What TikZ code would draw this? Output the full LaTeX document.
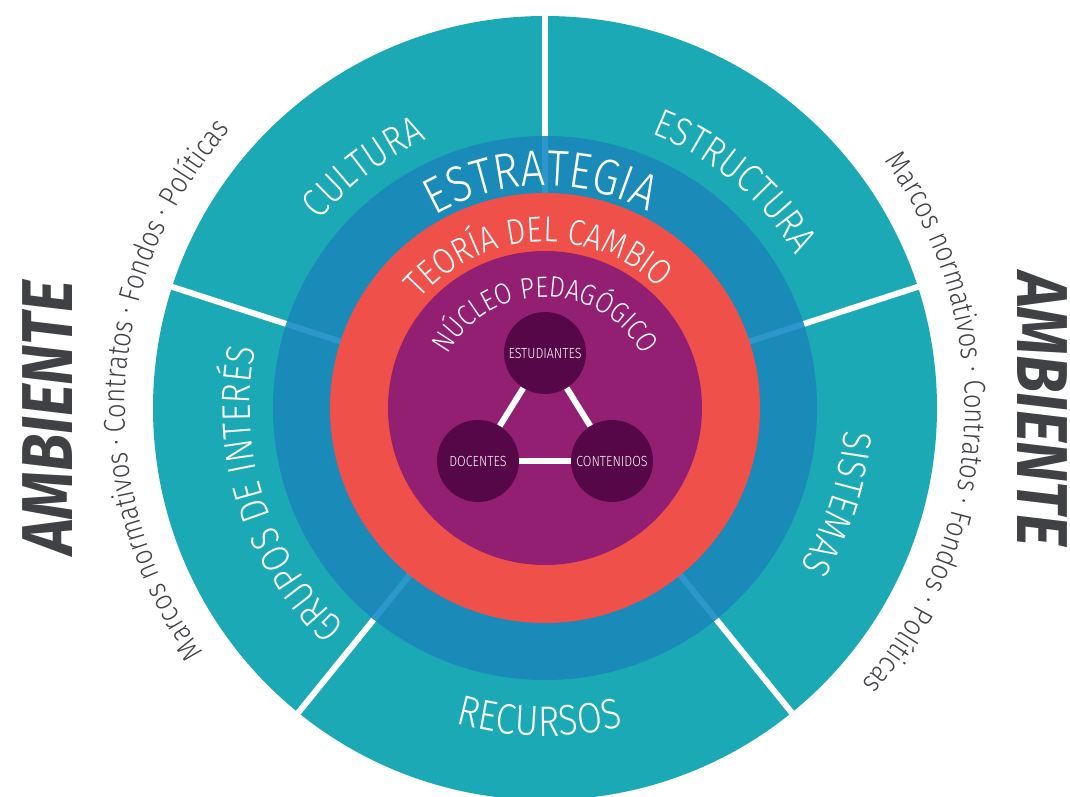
\documentclass[tikz,border=0pt]{standalone}
\usepackage{fontspec}
\IfFontExistsTF{Fira Sans Book}
  {\setmainfont{Fira Sans Book}[FakeStretch=0.85]}
  {\IfFontExistsTF{Fira Sans Light}
    {\setmainfont{Fira Sans Light}[FakeStretch=0.85]}
    {\setmainfont{Fira Sans}[FakeStretch=0.85]}}
\newfontfamily\ambfont{Fira Sans}[FakeStretch=0.85]
\usepackage{xcolor}
\usetikzlibrary{decorations.text}

\definecolor{ringteal}{HTML}{1BA9B5}
\definecolor{ringblue}{HTML}{1A8AB8}
\definecolor{seamblue}{HTML}{2C97CA}
\definecolor{ringred}{HTML}{EF5049}
\definecolor{corepurple}{HTML}{931F73}
\definecolor{coredark}{HTML}{560747}
\definecolor{ambgrey}{HTML}{404145}

\newcommand{\ringsize}[1]{\fontsize{#1}{#1}\selectfont}

\tikzset{
  ringtext/.style={decorate, decoration={text along path, text align=center, text={#1}}},
  corenode/.style={circle, fill=coredark, minimum size=61.5pt, inner sep=0pt, text=white, font=\ringsize{11}},
  corelink/.style={white, line width=4.5pt},
  divider/.style={white, line width=4.5pt},
  seam/.style={seamblue, line width=4.5pt},
  ambient/.style={text=ambgrey, font=\ambfont\ringsize{54}\bfseries\itshape}
}

\begin{document}
\begin{tikzpicture}[x=0.75pt, y=0.75pt]
\useasboundingbox (-545,-388) rectangle (525,408);

% rings
\fill [ringteal] (0,0) circle (392);
\foreach \a in {90,18,-51,-129,162}
  \draw [divider] (\a:268) -- (\a:395);
\fill [ringblue] (0,0) circle (272);
\foreach \a in {90,18,-51,-129,162}
  \draw [seam] (\a:212) -- (\a:272);
\fill [ringred] (0,0) circle (215);
\fill [corepurple] (0,0) circle (157);

% pedagogical core
\node [corenode] (est) at (0,55) {ESTUDIANTES};
\node [corenode] (doc) at (-67,-53) {DOCENTES};
\node [corenode] (con) at (67,-53) {CONTENIDOS};
\draw [corelink] (est) -- (doc);
\draw [corelink] (est) -- (con);
\draw [corelink] (doc) -- (con);

% ring labels
\path [ringtext={|\color{white}\ringsize{22}|NÚCLEO PEDAGÓGICO}] (178:111) arc [start angle=178, end angle=2, radius=111];
\path [ringtext={|\color{white}\ringsize{27}|TEORÍA DEL CAMBIO}] (175:166) arc [start angle=175, end angle=10, radius=166];
\path [ringtext={|\color{white}\ringsize{38}|ESTRATEGIA}] (160:222) arc [start angle=160, end angle=22, radius=222];
\path [ringtext={|\color{white}\ringsize{30}|CULTURA}] (167:293) arc [start angle=167, end angle=87, radius=293];
\path [ringtext={|\color{white}\ringsize{30}|ESTRUCTURA}] (100:294) arc [start angle=100, end angle=0, radius=294];
\path [ringtext={|\color{white}\ringsize{30}|SISTEMAS}] (27:300) arc [start angle=27, end angle=-63, radius=300];
\path [ringtext={|\color{white}\ringsize{30}|GRUPOS DE INTERÉS}] (255:295) arc [start angle=255, end angle=141, radius=295];
\path [ringtext={|\color{white}\ringsize{32}|RECURSOS}] (-136:328) arc [start angle=-136, end angle=-46, radius=328];

% surroundings
\path [ringtext={|\color{ambgrey}\ringsize{22.5}|Marcos normativos · Contratos · Fondos · Políticas}] (232:420) arc [start angle=232, end angle=122, radius=420];
\path [ringtext={|\color{ambgrey}\ringsize{22.5}|Marcos normativos · Contratos · Fondos · Políticas}] (52:420) arc [start angle=52, end angle=-57, radius=420];
\node [ambient, rotate=90] (ambleft) at (-497,-10) {AMBIENTE};
\node [ambient, rotate=-90] (ambright) at (497,-1) {AMBIENTE};

\end{tikzpicture}
\end{document}
